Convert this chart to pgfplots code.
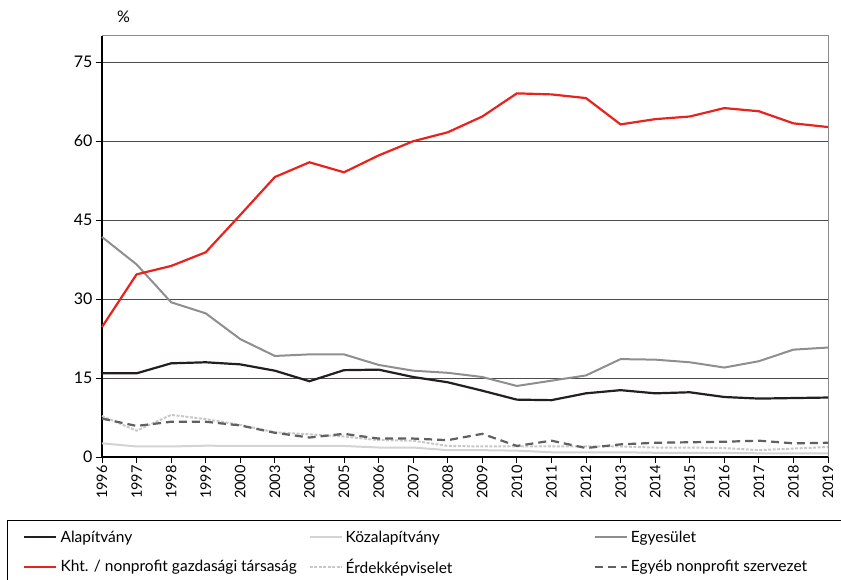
\documentclass[border=0pt]{standalone}
\usepackage{fontspec}
\setmainfont{Lato}
\usepackage{pgfplots}
\pgfplotsset{compat=1.18}
\definecolor{cRed}{HTML}{E8231D}
\definecolor{cBlack}{HTML}{231F20}
\definecolor{cKoz}{HTML}{D3D3D3}
\definecolor{cEgy}{HTML}{8E8E8E}
\definecolor{cErd}{HTML}{C8C8C8}
\definecolor{cOth}{HTML}{606060}
\begin{document}
\begin{tikzpicture}
\useasboundingbox (-102pt,-123pt) rectangle (739pt,457pt);
\begin{axis}[
  scale only axis,
  width=726pt, height=421pt,
  at={(0,0)}, anchor=origin,
  xmin=0, xmax=21, ymin=0, ymax=80,
  xtick={0,...,21},
  xticklabels={1996,1997,1998,1999,2000,2003,2004,2005,2006,2007,2008,2009,2010,2011,2012,2013,2014,2015,2016,2017,2018,2019},
  x tick label style={rotate=90, anchor=east, font=\fontsize{14.5}{15}\selectfont, inner sep=2pt},
  ytick={0,15,30,45,60,75},
  y tick label style={font=\fontsize{16}{18}\selectfont},
  /pgf/number format/assume math mode=true,
  axis x line*=bottom, axis y line*=left,
  axis line style={black, line width=1.2pt},
  tick align=outside, major tick length=6pt,
  tick style={black, line width=0.8pt},
  ymajorgrids, grid style={draw=black!70, line width=0.9pt},
  clip=false,
  legend columns=3,
  legend cell align=left,
  legend style={at={(rel axis cs:-0.1309,-0.1496)}, anchor=north west, draw=black, line width=0.8pt,
    font=\fontsize{15.5}{17}\selectfont, inner xsep=16pt, inner ysep=8.5pt,
    /tikz/every odd column/.append style={column sep=1pt},
    row sep=11pt},
  legend image code/.code={\draw[#1] (0pt,0pt) -- (32pt,0pt);},
]
\draw[black!45, line width=1pt] (rel axis cs:0,1) -- (rel axis cs:1,1) -- (rel axis cs:1,0);
\node[anchor=base west, font=\fontsize{16}{18}\selectfont] at (rel axis cs:0.016,1.032) {\%};
\addplot[cBlack, line width=2.2pt] coordinates {(0,15.9)(1,15.9)(2,17.8)(3,18.0)(4,17.6)(5,16.4)(6,14.4)(7,16.5)(8,16.6)(9,15.2)(10,14.2)(11,12.6)(12,10.9)(13,10.8)(14,12.1)(15,12.7)(16,12.1)(17,12.3)(18,11.4)(19,11.1)(20,11.2)(21,11.3)};
\addlegendentry{\makebox[246pt][l]{Alapítvány}}
\addplot[cKoz, line width=2pt] coordinates {(0,2.6)(1,2.0)(2,2.0)(3,2.15)(4,2.1)(5,2.1)(6,2.1)(7,2.1)(8,1.8)(9,1.8)(10,1.3)(11,1.3)(12,1.2)(13,0.9)(14,0.9)(15,0.9)(16,0.8)(17,0.8)(18,0.8)(19,0.7)(20,0.7)(21,0.7)};
\addlegendentry{\makebox[246pt][l]{Közalapítvány}}
\addplot[cEgy, line width=2pt] coordinates {(0,41.8)(1,36.6)(2,29.4)(3,27.3)(4,22.4)(5,19.2)(6,19.5)(7,19.5)(8,17.5)(9,16.4)(10,16.0)(11,15.2)(12,13.5)(13,14.5)(14,15.5)(15,18.6)(16,18.5)(17,18.0)(18,17.0)(19,18.2)(20,20.4)(21,20.8)};
\addlegendentry{\makebox[205pt][l]{Egyesület}}
\addplot[cRed, line width=2.2pt] coordinates {(0,24.7)(1,34.7)(2,36.3)(3,38.9)(4,46.0)(5,53.2)(6,56.0)(7,54.1)(8,57.3)(9,60.0)(10,61.7)(11,64.7)(12,69.1)(13,68.9)(14,68.2)(15,63.2)(16,64.2)(17,64.7)(18,66.3)(19,65.7)(20,63.4)(21,62.7)};
\addlegendentry{\makebox[246pt][l]{Kht. / nonprofit gazdasági társaság}}
\addplot[cErd, line width=2pt, dash pattern=on 3pt off 1.5pt] coordinates {(0,7.8)(1,5.0)(2,8.0)(3,7.2)(4,6.1)(5,4.7)(6,4.3)(7,3.9)(8,3.2)(9,3.1)(10,2.1)(11,2.0)(12,2.0)(13,2.0)(14,2.0)(15,2.0)(16,1.8)(17,1.8)(18,1.7)(19,1.3)(20,1.6)(21,1.9)};
\addlegendentry{\makebox[246pt][l]{Érdekképviselet}}
\addplot[cOth, line width=2.2pt, dash pattern=on 8pt off 5pt] coordinates {(0,7.3)(1,5.9)(2,6.7)(3,6.7)(4,6.0)(5,4.6)(6,3.7)(7,4.4)(8,3.5)(9,3.5)(10,3.2)(11,4.4)(12,2.1)(13,3.1)(14,1.7)(15,2.4)(16,2.7)(17,2.8)(18,2.9)(19,3.1)(20,2.6)(21,2.7)};
\addlegendentry{\makebox[205pt][l]{Egyéb nonprofit szervezet}}
\end{axis}
\end{tikzpicture}
\end{document}
